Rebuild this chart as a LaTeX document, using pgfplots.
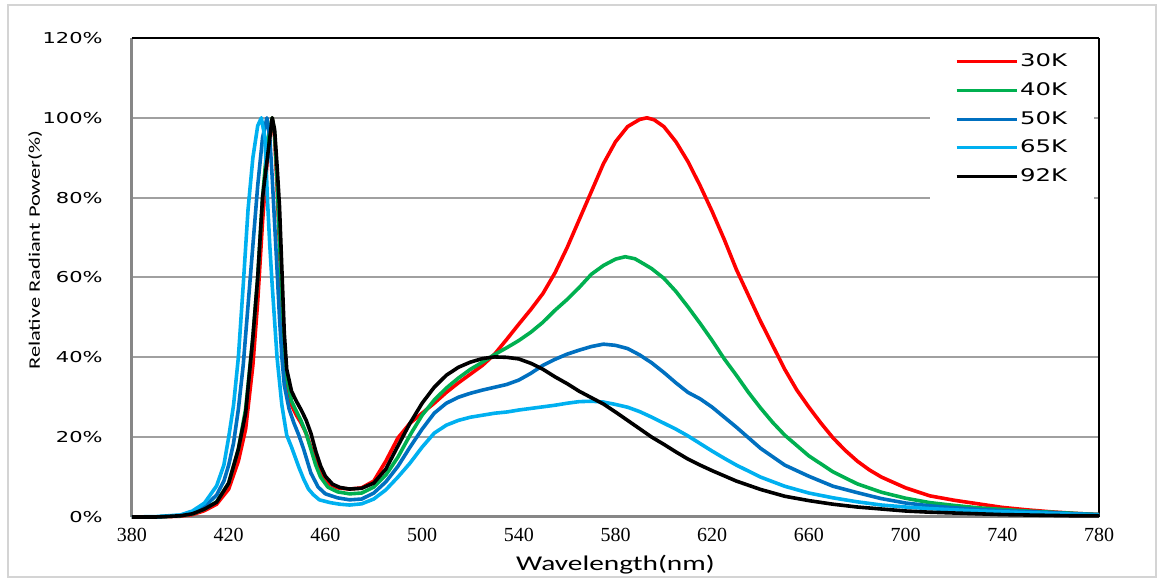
\documentclass[border=0pt]{standalone}
\usepackage{pgfplots}
\pgfplotsset{compat=1.18}
\usepackage{fontspec}
\usetikzlibrary{calc}
\setmainfont{Liberation Serif}
\newfontfamily\wide[FakeStretch=1.4]{DejaVu Sans}
\newfontfamily\labfont[FakeStretch=1.4]{Carlito}
\definecolor{c30}{RGB}{255,0,0}
\definecolor{c40}{RGB}{0,176,80}
\definecolor{c50}{RGB}{0,112,192}
\definecolor{c65}{RGB}{0,176,240}
\definecolor{gridc}{RGB}{160,160,160}
\definecolor{axc}{RGB}{135,135,135}
\definecolor{framec}{RGB}{212,212,212}

\pgfplotstableread{
x y
380 0
390 0
400 0.2
405 0.6
410 1.6
415 3.2
420 7
424 14
427 22
430 38
432 54
434 74
436 90
437 96
438 100
439 95
440 83
441 68
442 52
443 40
444 33
446 28
448 25.5
450 23.5
452 21
454 17.5
456 14
458 11
461 8.5
465 7.3
470 7
475 7.3
480 9
485 14
490 19.8
495 23.5
500 26
505 28.5
510 31.2
515 33.6
520 35.8
525 38
530 40.8
535 44.5
540 48.3
545 52
550 56
555 61.2
560 67.5
565 74.5
570 81.5
575 88.5
580 94
585 97.8
590 99.6
593 100
596 99.5
600 97.8
605 94
610 89
615 83
620 76.5
625 69.5
630 62
635 55.5
640 49
645 43
650 37
655 31.8
660 27.5
665 23.5
670 19.8
675 16.7
680 14
685 11.8
690 10
700 7.3
710 5.3
720 4.2
730 3.3
740 2.4
750 1.8
760 1.3
770 0.9
780 0.6
}\dataA

\pgfplotstableread{
x y
380 0
390 0
400 0.3
405 0.8
410 2
415 3.8
420 8.5
424 17
427 27
430 45
432 60
434 80
436 94
438 100
439 96
440 85
441 70
442 55
443 42
444 35
446 29
448 26.5
450 24
452 21
454 17
456 13
458 10
461 7.5
465 6.3
470 5.8
475 6
480 7.5
485 10.5
490 15
495 20.5
500 25.5
505 29.3
510 32.3
515 34.8
520 37
525 38.8
530 40.7
535 42.4
540 44.2
545 46.3
550 48.8
555 51.8
560 54.5
565 57.5
570 60.8
575 63
580 64.6
584 65.2
588 64.7
592 63.3
595 62.2
600 59.8
605 56.5
610 52.6
615 48.5
620 44.2
625 39.6
630 35.5
635 31.2
640 27.3
645 23.7
650 20.5
660 15.3
670 11.3
680 8.3
690 6.2
700 4.7
710 3.6
720 2.9
730 2.3
740 1.9
750 1.5
760 1.2
770 0.9
780 0.6
}\dataB

\pgfplotstableread{
x y
380 0
390 0
400 0.4
405 1.1
410 2.6
415 5.5
418 9
420 13
422 18.5
424 27
426 38
428 53
430 68
432 83
434 95
435.8 100
437 95
438 85
440 62
441 50
442 40
443 33
445 27
447 23.5
449 20.5
451 17
454 11
457 7.5
460 5.8
465 4.8
470 4.3
475 4.5
480 6
485 8.8
490 12.7
495 17.5
500 22
505 26
510 28.5
515 30
520 31
525 31.8
530 32.5
535 33.2
540 34.3
545 36
550 38
555 39.5
560 40.8
565 41.8
570 42.7
575 43.3
580 43
585 42.2
590 40.6
595 38.6
600 36.2
605 33.6
610 31.2
615 29.6
620 27.5
625 25
630 22.5
640 17.2
650 13
660 10.2
670 7.7
680 6.1
690 4.6
700 3.5
710 2.8
720 2.3
730 1.9
740 1.6
750 1.35
760 1.1
770 0.8
780 0.6
}\dataC

\pgfplotstableread{
x y
380 0
390 0.1
400 0.5
405 1.5
410 3.5
415 7.8
418 13
420 20
422 28
424 40
426 58
428 77
430 90
432 98
433.5 100
435 95
436 80
437 68
438 58
440 40
442 28
444 20.5
446 17.5
449 12.5
451 9.5
453 7
455 5.6
457.5 4.3
462 3.6
466 3.2
470 3
475 3.3
480 4.5
485 6.8
490 10
495 13.5
500 17.5
505 21
510 23
515 24.2
520 25
525 25.5
530 26
535 26.3
540 26.8
545 27.2
550 27.6
555 28
560 28.5
565 28.9
570 29
575 28.8
580 28.2
585 27.5
590 26.4
595 25
600 23.5
605 22
610 20.3
615 18.4
620 16.5
625 14.7
630 13
640 10
650 7.7
660 6
670 4.8
680 3.8
690 3
700 2.5
710 2.1
720 1.8
730 1.5
740 1.3
750 1.1
760 0.9
770 0.7
780 0.5
}\dataD

\pgfplotstableread{
x y
380 0
390 0
400 0.3
405 0.8
410 2
415 3.7
420 8.5
424 17
427 26
430 45
432 60
434 80
436 90
438 100
439 97
440 88
441 78
442 62
443 46
444 37
446 31.5
448 29
450 26.8
452 24.3
454 21
456 16.5
458 12.8
460 10.2
463 8.2
466 7.4
470 7
475 7.2
480 8.5
485 12
490 17.8
495 23.5
500 28.5
505 32.5
510 35.5
515 37.5
520 38.8
525 39.7
530 40.1
535 40
540 39.6
545 38.5
550 37
555 35.1
560 33.4
565 31.5
570 29.9
575 28.3
580 26.3
585 24.2
590 22.1
595 20
600 18.2
605 16.3
610 14.5
615 13
620 11.6
625 10.3
630 9
640 6.9
650 5.2
660 4.1
670 3.2
680 2.5
690 2
700 1.5
710 1.2
720 1
730 0.8
740 0.6
750 0.5
760 0.4
770 0.3
780 0.3
}\dataE

\begin{document}
\begin{tikzpicture}
\begin{axis}[
  name=ax,
  scale only axis, width=483.5pt, height=239.5pt,
  xmin=380, xmax=780, ymin=0, ymax=120,
  xtick={380,420,...,780}, ytick={0,20,...,120},
  major tick length=0pt,
  axis line style={draw=none},
  clip=false,
  ymajorgrids, major grid style={gridc, line width=1pt},
  /pgf/number format/assume math mode=true,
  xticklabel style={font=\fontsize{10}{12}\selectfont, anchor=north, inner sep=0pt, yshift=-5.5pt},
  yticklabel={\pgfmathprintnumber{\tick}\%},
  yticklabel style={font=\wide\fontsize{7.5}{9}\selectfont, anchor=east, inner sep=0pt, xshift=-14.5pt},
  xlabel={Wavelength(nm)},
  xlabel style={font=\labfont\fontsize{10.5}{12}\selectfont, at={(axis description cs:0.5,0)}, anchor=north, inner sep=0pt, yshift=-19pt},
  ylabel={Relative Radiant Power(\%)},
  ylabel style={font=\labfont\fontsize{8}{10}\selectfont, at={(axis description cs:-0.1003,0.557)}, anchor=center, inner sep=0pt},
  legend style={draw=none, fill=white, at={(axis description cs:0.825,0.997)}, anchor=north west,
    font=\wide\fontsize{8.7}{10}\selectfont, inner xsep=12.5pt, inner ysep=6pt,
    row sep=4.4pt, nodes={inner sep=1pt}},
  legend cell align=left,
  legend image code/.code={\draw[#1, line width=1.5pt] (0pt,0pt) -- (30pt,0pt);},
  every axis plot/.append style={line width=1.8pt, line join=round},
]
\draw[axc, line width=1.5pt] (rel axis cs:0,0) -- (rel axis cs:1,0);
\draw[axc, line width=1.5pt] (rel axis cs:0,0) -- (rel axis cs:0,1);
\draw[black, line width=1pt] (rel axis cs:0,1) -- (rel axis cs:1,1);
\draw[black, line width=1pt] (rel axis cs:1,0) -- (rel axis cs:1,1);
\addplot[c30] table[x=x,y=y] {\dataA};
\addlegendentry{30K}
\addplot[c40] table[x=x,y=y] {\dataB};
\addlegendentry{40K}
\addplot[c50] table[x=x,y=y] {\dataC};
\addlegendentry{50K}
\addplot[c65] table[x=x,y=y] {\dataD};
\addlegendentry{65K}
\addplot[black] table[x=x,y=y] {\dataE};
\addlegendentry{92K}
\end{axis}
\pgfresetboundingbox
\path (ax.south west) ++(-66pt,-31.5pt) coordinate (bl);
\path (ax.north east) ++(29pt,19pt) coordinate (tr);
\useasboundingbox (bl) rectangle (tr);
\draw[framec, line width=1pt] ($(bl)+(4pt,1.5pt)$) rectangle ($(tr)-(0.5pt,2.5pt)$);
\end{tikzpicture}
\end{document}
